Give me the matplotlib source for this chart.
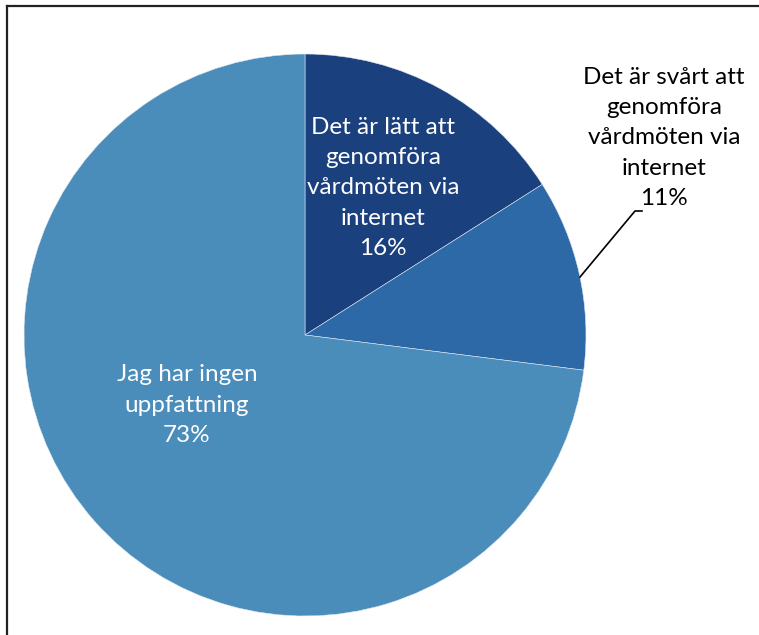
import matplotlib
matplotlib.use('Agg')
import matplotlib.pyplot as plt
from matplotlib.lines import Line2D

# answers, clockwise from 12 o'clock
labels = ['Det är lätt att\ngenomföra\nvårdmöten via\ninternet',
          'Det är svårt att\ngenomföra\nvårdmöten via\ninternet',
          'Jag har ingen\nuppfattning']
shares = [16, 11, 73]
colors = ['#1b407e', '#2d68a7', '#4a8cba']

W, H = 759, 635
fig = plt.figure(figsize=(W / 100, H / 100), dpi=100)
ax = fig.add_axes([0, 0, 1, 1])

cx, cy, r = 305, H - 335, 281
wedges, _ = ax.pie(shares, colors=colors, startangle=90, counterclock=False,
                   center=(cx, cy), radius=r, frame=True,
                   wedgeprops=dict(linewidth=0.4, edgecolor='#dde6f0'))
ax.set_xlim(0, W)
ax.set_ylim(0, H)
ax.set_aspect('equal')
ax.axis('off')

font = dict(family='Lato', fontsize=17.5, ha='center', va='center', linespacing=1.55)

# inside labels
ax.text(383, H - 188, '%s\n%d%%' % (labels[0], shares[0]), color='white', **font)
ax.text(187, H - 405, '%s\n%d%%' % (labels[2], shares[2]), color='white', **font)
# outside label with leader line
ax.text(664, H - 138, '%s\n%d%%' % (labels[1], shares[1]), color='black', **font)
ax.plot([580, 635, 642], [H - 277, H - 211, H - 211], color='black', lw=1.2)

# frame of the original chart area (cropped)
fig.add_artist(Line2D([7 / W, 1], [1 - 6 / H, 1 - 6 / H], color='#222222', lw=1.6))
fig.add_artist(Line2D([7 / W, 7 / W], [0, 1 - 6 / H], color='#222222', lw=1.6))

fig.savefig('out.png', dpi=100)
